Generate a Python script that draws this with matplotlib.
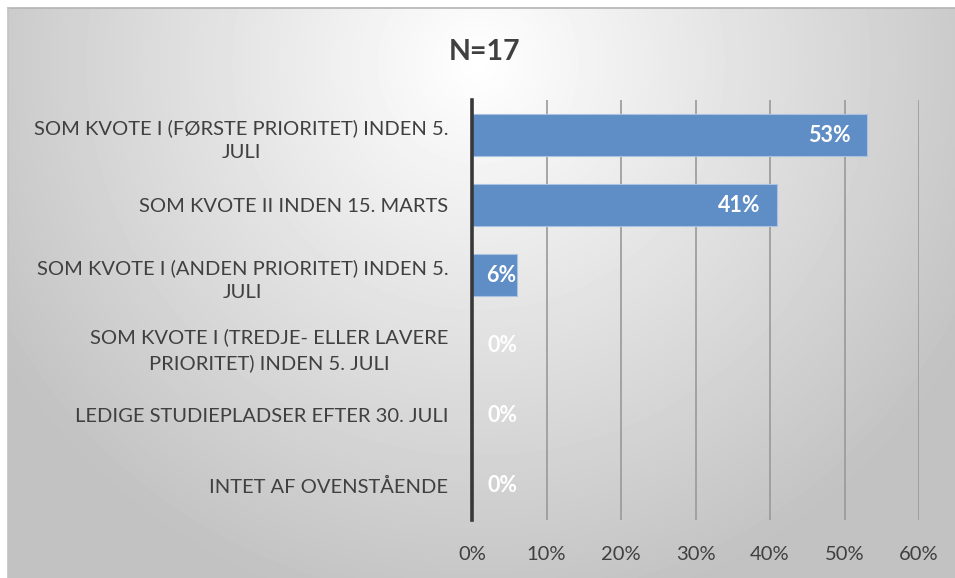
import numpy as np
import matplotlib.pyplot as plt
from matplotlib.ticker import PercentFormatter

categories = [
    'SOM KVOTE I (FØRSTE PRIORITET) INDEN 5.\nJULI',
    'SOM KVOTE II INDEN 15. MARTS',
    'SOM KVOTE I (ANDEN PRIORITET) INDEN 5.\nJULI',
    'SOM KVOTE I (TREDJE- ELLER LAVERE\nPRIORITET) INDEN 5. JULI',
    'LEDIGE STUDIEPLADSER EFTER 30. JULI',
    'INTET AF OVENSTÅENDE',
]
values = [0.53, 0.41, 0.06, 0.0, 0.0, 0.0]
value_labels = ['53%', '41%', '6%', '0%', '0%', '0%']
xticks = [0, 0.1, 0.2, 0.3, 0.4, 0.5, 0.6]
title = 'N=17'

plt.rcParams['font.family'] = ['Lato', 'DejaVu Sans']

W, H = 955, 578
fig = plt.figure(figsize=(W / 100, H / 100), dpi=100)
fig.patch.set_facecolor('white')

# radial gradient background
bg = fig.add_axes([8 / W, 0, 1 - 8 / W, 1 - 8 / H])
yy, xx = np.mgrid[0:570, 0:947]
d = np.sqrt(((xx - 470) / 560.0) ** 2 + ((yy - 55) / 560.0) ** 2)
shade = np.clip(1.0 - 0.24 * d, 0.76, 1.0)
bg.imshow(shade, cmap='gray', vmin=0, vmax=1, aspect='auto', interpolation='bilinear')
bg.axis('off')
fig.add_artist(plt.Line2D([8 / W, 1], [1 - 8 / H, 1 - 8 / H], color='#b4b4b4', lw=1.2))
fig.add_artist(plt.Line2D([8 / W, 8 / W], [0, 1 - 8 / H], color='#c4c4c4', lw=1.2))

ax = fig.add_axes([472 / W, 1 - 520 / H, (919 - 472) / W, 420 / H])
ax.set_facecolor('none')
y = np.arange(len(categories))
ax.barh(y, values, height=0.59, color='#5f8dc5', edgecolor='#a9c2e2', linewidth=0.8, zorder=3)
ax.set_xlim(0, 0.6)
ax.set_ylim(len(categories) - 0.5, -0.5)

ax.set_xticks(xticks)
ax.xaxis.set_major_formatter(PercentFormatter(1.0, decimals=0))
ax.set_yticks(y)
ax.set_yticklabels(categories, multialignment='center', linespacing=1.5)
ax.tick_params(axis='both', length=0, labelsize=14.5, colors='#404040')
ax.tick_params(axis='y', pad=17)
ax.tick_params(axis='x', pad=19)
ax.grid(axis='x', color='#999999', linewidth=1.2, zorder=0)
for s in ['top', 'right', 'bottom']:
    ax.spines[s].set_visible(False)
ax.spines['left'].set_color('#383838')
ax.spines['left'].set_linewidth(2.6)
ax.spines['left'].set_zorder(5)

for yi, v, lab in zip(y, values, value_labels):
    if v >= 0.1:
        ax.annotate(lab, (v, yi), xytext=(-12, 0), textcoords='offset points',
                    ha='right', va='center', color='white', fontsize=15.5, fontweight='bold', zorder=6)
    elif v > 0:
        ax.annotate(lab, (v, yi), xytext=(0, 0), textcoords='offset points',
                    ha='right', va='center', color='white', fontsize=15.5, fontweight='bold', zorder=6)
    else:
        ax.annotate(lab, (v, yi), xytext=(11, 0), textcoords='offset points',
                    ha='left', va='center', color='white', fontsize=15.5, fontweight='bold', zorder=6)

fig.text(485 / W, 1 - 52 / H, title, ha='center', va='center', fontsize=20.5,
         fontweight='bold', color='#404040')

fig.savefig('out.png', dpi=100)
